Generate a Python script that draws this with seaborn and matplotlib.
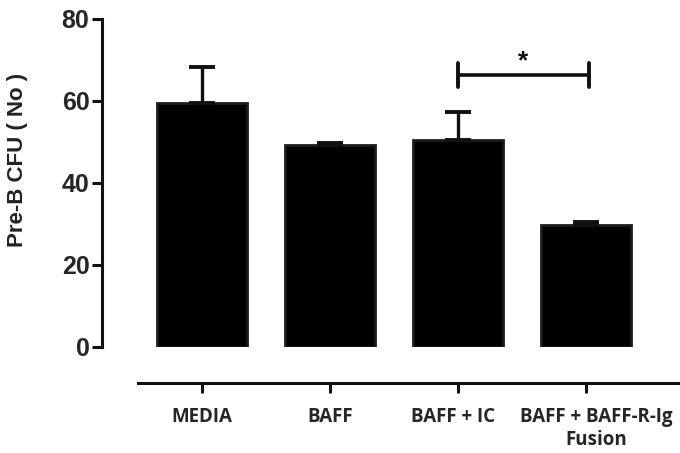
import numpy as np
import pandas as pd
import matplotlib
matplotlib.use('Agg')
import matplotlib.pyplot as plt
import matplotlib.transforms as mtransforms
import seaborn as sns

# Data
groups = ['MEDIA', 'BAFF', 'BAFF + IC', 'BAFF + BAFF-R-Ig\nFusion']
means = [59.5, 49.2, 50.6, 29.8]
sem = [8.8, 0.5, 6.8, 0.8]

sns.set_style("white")
plt.rcParams['font.family'] = ['Liberation Sans', 'DejaVu Sans']

df = pd.DataFrame({'group': groups, 'value': means})

fig = plt.figure(figsize=(6.8, 4.53), dpi=100)
ax = fig.add_axes([138 / 680, 106 / 453, 542 / 680, 328 / 453])

sns.barplot(data=df, x='group', y='value', color='black', width=0.7,
            edgecolor='#1c1c1c', linewidth=2, saturation=1, ax=ax)

# upper error bars only
x = np.arange(len(groups))
ax.errorbar(x, means, yerr=[np.zeros(len(sem)), sem], fmt='none',
            ecolor='#111111', elinewidth=2.4, capsize=9.5, capthick=2.8)

ax.set_ylim(0, 80)
ax.set_xlim(-0.5, 3.734)
ax.set_yticks([0, 20, 40, 60, 80])

# axes style
for s in ['top', 'right']:
    ax.spines[s].set_visible(False)
ax.spines['left'].set_position(('outward', 26))
ax.spines['bottom'].set_position(('outward', 26))
for s in ['left', 'bottom']:
    ax.spines[s].set_linewidth(2.2)
    ax.spines[s].set_color('#111111')
ax.tick_params(axis='y', left=True, length=7, width=2.2, color='#111111',
               labelsize=18, pad=2)
ax.tick_params(axis='x', bottom=True, length=7, width=2.2, color='#111111',
               pad=10)
for lab in ax.get_yticklabels():
    lab.set_fontweight('bold')
ax.set_xticks(x)
ax.set_xticklabels(groups, fontsize=13.5, fontweight='bold',
                   family='Open Sans', linespacing=1.2)

# the last two labels sit a little off their ticks in the original
shifts = [0, 0, -5, 10]
for lab, dx in zip(ax.get_xticklabels(), shifts):
    lab.set_transform(lab.get_transform() +
                      mtransforms.ScaledTranslation(dx / 100, 0, fig.dpi_scale_trans))

ax.set_xlabel('')
ax.set_ylabel('Pre-B CFU ( No )', fontsize=16, fontweight='bold',
              color='#222222')
ax.yaxis.set_label_coords(-0.203, 0.57)

# significance bracket
yb = 66.3
ax.plot([2.0, 3.02], [yb, yb], color='#111111', lw=2.6, solid_capstyle='butt')
for xe in [2.0, 3.02]:
    ax.plot([xe, xe], [yb - 3, yb + 3], color='#111111', lw=2.8,
            solid_capstyle='round')
ax.text(2.51, 66.8, '*', ha='center', va='bottom', fontsize=19,
        fontweight='bold', color='#111111')

fig.savefig('out.png', dpi=100)
